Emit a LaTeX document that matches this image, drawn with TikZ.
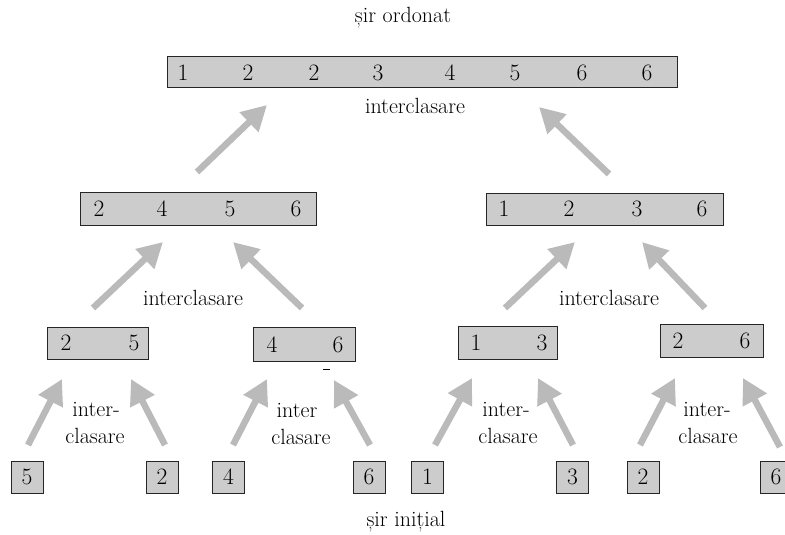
\documentclass[tikz,border=0pt]{standalone}
\usetikzlibrary{arrows.meta}
\definecolor{cellgray}{HTML}{CCCCCC}
\definecolor{arrowgray}{HTML}{BABABA}
\tikzset{
  txt/.style={font=\rmfamily\fontsize{22}{26}\selectfont, inner sep=0pt},
  cell/.style={draw=black!85, fill=cellgray, line width=1pt, inner sep=0pt,
    font=\rmfamily\fontsize{23.5}{28}\selectfont},
  digit/.style={font=\rmfamily\fontsize{23.5}{28}\selectfont, inner sep=0pt},
  merge/.style={draw=arrowgray, line width=6.5pt, line cap=butt,
    -{Triangle[length=25pt,width=26pt,fill=arrowgray]}},
}
\begin{document}
\begin{tikzpicture}[x=1pt,y=-1pt]
\useasboundingbox (0,0) rectangle (785,535);

% captions
\node[txt] (title) at (403,18) {șir ordonat};
\node[txt] (start) at (406,522) {șir inițial};

% level 0: sorted sequence
\node[cell, minimum width=510pt, minimum height=31pt] (top) at (422,72.5) {};
\foreach \v/\x [count=\i] in {1/183,2/248,2/314,3/378,4/450,5/515,6/582,6/647}
  \node[digit] (t\i) at (\x,72.5) {\v};
\node[txt] (m0) at (415,106) {interclasare};

% level 1
\node[cell, minimum width=236pt, minimum height=33pt] (la) at (198,208.5) {};
\foreach \v/\x [count=\i] in {2/99,4/162,5/230,6/296}
  \node[digit] (la\i) at (\x,208.5) {\v};
\node[cell, minimum width=237pt, minimum height=32pt] (lb) at (604.5,209) {};
\foreach \v/\x [count=\i] in {1/504,2/569,3/637,6/702}
  \node[digit] (lb\i) at (\x,209) {\v};
\node[txt] (m1) at (193,298) {interclasare};
\node[txt] (m2) at (609,298) {interclasare};

% level 2
\node[cell, minimum width=101pt, minimum height=32pt] (pa) at (97.5,343) {};
\node[digit] (pa1) at (66,343) {2};
\node[digit] (pa2) at (134,343) {5};
\node[cell, minimum width=102pt, minimum height=34pt] (pb) at (304,344.5) {};
\node[digit] (pb1) at (272,344.5) {4};
\node[digit] (pb2) at (338,344.5) {6};
\draw[line width=1pt] (322.5,369) -- (329.5,369);
\node[cell, minimum width=99pt, minimum height=33pt] (pc) at (507.5,343) {};
\node[digit] (pc1) at (476,343) {1};
\node[digit] (pc2) at (542,343) {3};
\node[cell, minimum width=103pt, minimum height=33pt] (pd) at (711.5,340.5) {};
\node[digit] (pd1) at (678,340.5) {2};
\node[digit] (pd2) at (745,340.5) {6};

% level 3: single elements
\foreach \v/\x/\n in {5/27/q1,2/162/q2,4/228.5/q3,6/369/q4,1/427.5/q5,3/572.5/q6,2/643/q7,6/776/q8}
  \node[cell, minimum width=32pt, minimum height=32pt] (\n) at (\x,477) {\v};

\node[txt] (s1a) at (96,409) {inter-};
\node[txt] (s1b) at (95,436) {clasare};
\node[txt] (s2a) at (297,410) {inter};
\node[txt] (s2b) at (301,437) {clasare};
\node[txt] (s3a) at (506,409) {inter-};
\node[txt] (s3b) at (508,436) {clasare};
\node[txt] (s4a) at (707,409) {inter-};
\node[txt] (s4b) at (708,436) {clasare};

% arrow end points
\coordinate (a1s) at (197,172);  \coordinate (a1e) at (267,105);
\coordinate (a2s) at (609,174);  \coordinate (a2e) at (539,107);
\coordinate (b1s) at (93,308);   \coordinate (b1e) at (163,242);
\coordinate (b2s) at (302,308);  \coordinate (b2e) at (233,242);
\coordinate (b3s) at (505,308);  \coordinate (b3e) at (575,242);
\coordinate (b4s) at (705,308);  \coordinate (b4e) at (642,242);
\coordinate (c1s) at (28,445);   \coordinate (c1e) at (62,379);
\coordinate (c2s) at (165,445);  \coordinate (c2e) at (131,379);
\coordinate (c3s) at (233,445);  \coordinate (c3e) at (267,379);
\coordinate (c4s) at (370,445);  \coordinate (c4e) at (334,380);
\coordinate (c5s) at (435,445);  \coordinate (c5e) at (472,378);
\coordinate (c6s) at (573,445);  \coordinate (c6e) at (538,378);
\coordinate (c7s) at (640,445);  \coordinate (c7e) at (675,378);
\coordinate (c8s) at (780,447);  \coordinate (c8e) at (743,378);

\foreach \a in {a1,a2,b1,b2,b3,b4,c1,c2,c3,c4,c5,c6,c7,c8}
  \draw[merge] (\a s) -- (\a e);
\end{tikzpicture}
\end{document}
